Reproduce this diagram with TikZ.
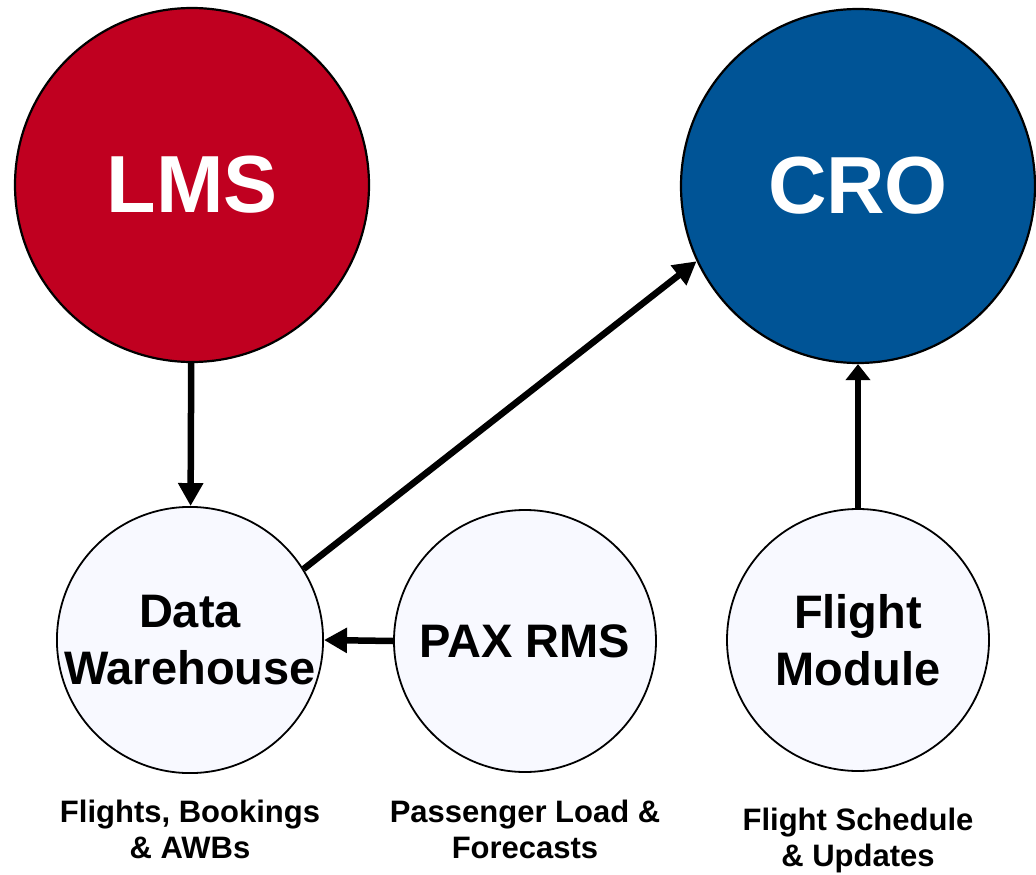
\documentclass[tikz,border=0pt]{standalone}
\usepackage{fontspec}
\setmainfont{Liberation Sans}
\usetikzlibrary{arrows.meta}
\definecolor{lmsred}{RGB}{192,0,32}
\definecolor{croblue}{RGB}{0,84,150}
\definecolor{paleblue}{RGB}{248,249,255}
\begin{document}
\begin{tikzpicture}[x=1pt,y=-1pt,
  big/.style={circle,draw=black,line width=2.2pt,minimum size=354pt,inner sep=0pt,text=white,font=\fontsize{81}{90}\selectfont\bfseries},
  small/.style={circle,draw=black,line width=1.8pt,fill=paleblue,minimum size=262pt,inner sep=0pt,align=center,font=\fontsize{47}{57}\selectfont\bfseries},
  caption/.style={align=center,anchor=base,inner sep=0pt,font=\fontsize{31}{36}\selectfont\bfseries},
  flow/.style={line width=6.5pt,-{Triangle[width=24pt,length=23pt]}},
  flowshort/.style={line width=6.5pt,-{Triangle[width=24pt,length=16pt]}}]
\useasboundingbox (0,0) rectangle (1036,875);
\node[big,fill=lmsred] (lms) at (192,185) {LMS};
\node[big,fill=croblue] (cro) at (858,186) {CRO};
\node[small] (dw) at (190,640) {Data\\Warehouse};
\node[small] (pax) at (525,641) {PAX RMS};
\node[small] (fm) at (858,640) {Flight\\Module};
\draw[flow] (lms) -- (dw);
\draw[flow] (dw.32.5) -- (cro.205.5);
\draw[flow] (pax.west) -- (dw.east);
\draw[flowshort] (fm) -- (cro);
\node[caption] (c1) at (190,858) {Flights, Bookings\\\& AWBs};
\node[caption] (c2) at (525,858) {Passenger Load \&\\Forecasts};
\node[caption] (c3) at (858,866) {Flight Schedule\\\& Updates};
\end{tikzpicture}
\end{document}
